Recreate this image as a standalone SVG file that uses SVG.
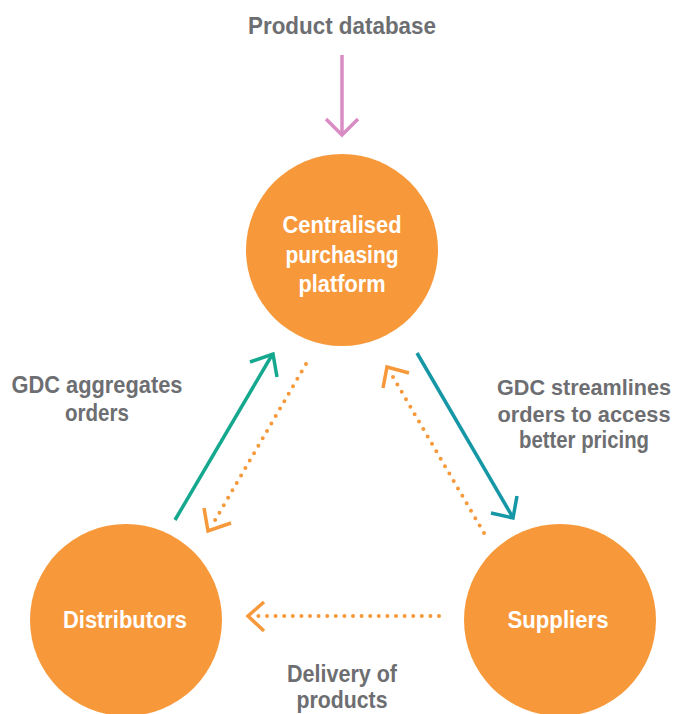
<svg xmlns="http://www.w3.org/2000/svg" width="678" height="714" viewBox="0 0 678 714">
<style>
.lbl{font-family:"Liberation Sans",Arial,sans-serif;font-weight:bold;font-size:24px;fill:#6d6e71;text-anchor:middle}
.rl{font-size:22.5px}
.nl{font-family:"Liberation Sans",Arial,sans-serif;font-weight:bold;font-size:24.5px;fill:#ffffff;text-anchor:middle}
.node{fill:#f7993b}
.dot{fill:none;stroke:#f7993b;stroke-width:4;stroke-linecap:round;stroke-dasharray:0 8.6}
.chev{fill:none;stroke:#f7993b;stroke-width:3.5}
</style>
<rect width="678" height="714" fill="#ffffff"/>
<g id="connectors">
  <g id="pink">
    <line x1="342" y1="55" x2="342" y2="134" stroke="#d98cc4" stroke-width="3.5"/>
    <polyline points="326,119 342,135 358,119" fill="none" stroke="#d98cc4" stroke-width="3.5"/>
  </g>
  <g id="green">
    <line x1="175" y1="520" x2="272" y2="355" stroke="#14a88e" stroke-width="3.5"/>
    <polyline points="250,362 273,354 277,377" fill="none" stroke="#14a88e" stroke-width="3.5"/>
  </g>
  <g id="teal">
    <line x1="417" y1="353" x2="512" y2="516" stroke="#1597a5" stroke-width="3.5"/>
    <polyline points="491,513 513,518 517,496" fill="none" stroke="#1597a5" stroke-width="3.5"/>
  </g>
  <g id="dot1">
    <line class="dot" x1="306" y1="364" x2="214" y2="522"/>
    <polyline class="chev" points="204,508 208,531 231,523"/>
  </g>
  <g id="dot2">
    <line class="dot" x1="484" y1="533" x2="393" y2="377"/>
    <polyline class="chev" points="383,388 387,367 409,373"/>
  </g>
  <g id="dot3">
    <line class="dot" x1="439" y1="616" x2="258" y2="616"/>
    <polyline class="chev" points="264,602 248,616 264,631"/>
  </g>
</g>
<g id="platform">
  <circle class="node" cx="342" cy="250" r="96"/>
  <text class="nl" x="342" y="233" textLength="119" lengthAdjust="spacingAndGlyphs">Centralised</text>
  <text class="nl" x="342" y="263" textLength="113" lengthAdjust="spacingAndGlyphs">purchasing</text>
  <text class="nl" x="342" y="292" textLength="87" lengthAdjust="spacingAndGlyphs">platform</text>
</g>
<g id="distributors">
  <circle class="node" cx="126" cy="620" r="96"/>
  <text class="nl" x="125" y="628" textLength="124" lengthAdjust="spacingAndGlyphs">Distributors</text>
</g>
<g id="suppliers">
  <circle class="node" cx="560" cy="620" r="96"/>
  <text class="nl" x="558" y="628" textLength="101" lengthAdjust="spacingAndGlyphs">Suppliers</text>
</g>
<g id="labels">
  <text class="lbl" x="342" y="34" textLength="188" lengthAdjust="spacingAndGlyphs">Product database</text>
  <text class="lbl" x="97" y="393" textLength="171" lengthAdjust="spacingAndGlyphs">GDC aggregates</text>
  <text class="lbl" x="97" y="421" textLength="64" lengthAdjust="spacingAndGlyphs">orders</text>
  <text class="lbl rl" x="584" y="395" textLength="174" lengthAdjust="spacingAndGlyphs">GDC streamlines</text>
  <text class="lbl rl" x="584" y="422" textLength="173" lengthAdjust="spacingAndGlyphs">orders to access</text>
  <text class="lbl" x="584" y="448" textLength="130" lengthAdjust="spacingAndGlyphs">better pricing</text>
  <text class="lbl" x="342" y="682" textLength="110" lengthAdjust="spacingAndGlyphs">Delivery of</text>
  <text class="lbl" x="342" y="708" textLength="91" lengthAdjust="spacingAndGlyphs">products</text>
</g>
</svg>
